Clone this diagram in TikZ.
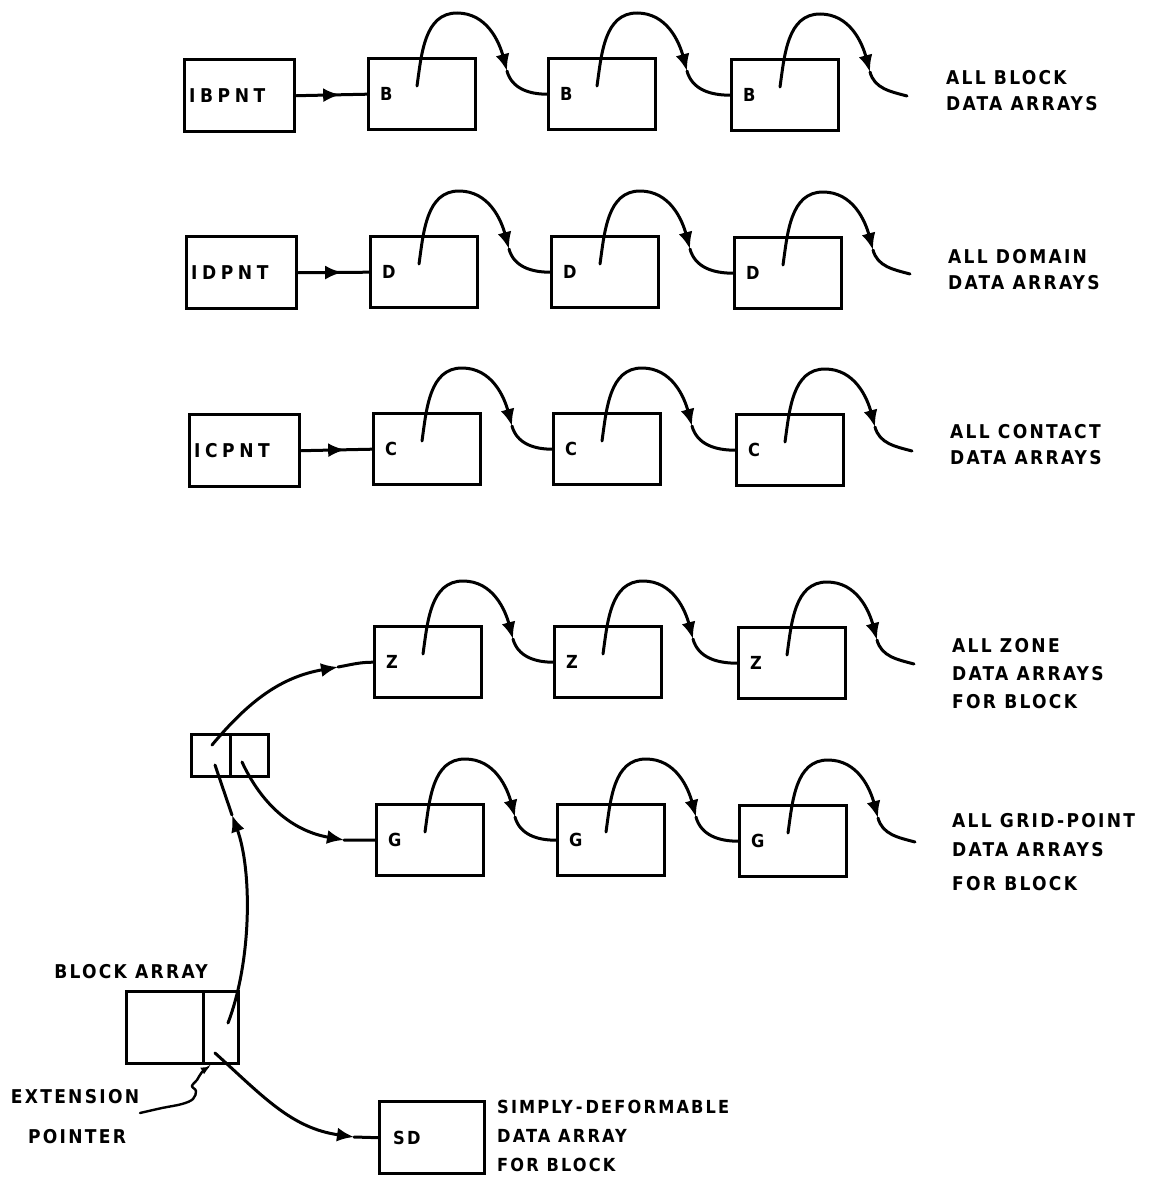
\documentclass[tikz,border=0pt]{standalone}
\usepackage{fontspec}
\setmainfont{DejaVu Sans}
\newfontfamily\lblfont{DejaVu Sans Condensed}[LetterSpace=12]
\newfontfamily\ptrfam{DejaVu Sans Condensed}[LetterSpace=24]
\usetikzlibrary{arrows.meta,calc,decorations.markings}
\tikzset{
  bx/.style={draw, line width=3.4pt, minimum width=107pt, minimum height=71pt, anchor=north west, inner sep=0pt},
  pbx/.style={bx, minimum width=110pt, minimum height=72pt},
  lnk/.style={line width=3pt, line cap=round},
  tip/.style={-{Latex[length=17pt,width=14pt]}},
  midarr/.style={postaction={decorate}, decoration={markings, mark=at position #1 with {\arrow{Latex[length=17pt,width=14pt]}}}},
  lbl/.style={font=\lblfont\bfseries\fontsize{19}{26}\selectfont, align=left, anchor=west, inner sep=0pt},
  lt/.style={font=\lblfont\bfseries\fontsize{18}{18}\selectfont, anchor=west, inner sep=0pt},
  pt/.style={font=\ptrfam\bfseries\fontsize{19}{19}\selectfont, anchor=west, inner sep=0pt}
}
\newcommand\chainlink[3]{%
  \coordinate (#3s) at ($(#1.north west)+(50,-29)$);
  \coordinate (#3p) at ($(#1.north west)+(90,44)$);
  \coordinate (#3a) at ($(#1.north west)+(140,-14)$);
  \draw[lnk,tip] (#3s) to[out=82,in=180] (#3p) to[out=0,in=105] (#3a);
  \draw[lnk] (#3a) to[out=-75,in=180] #2;
}
\newcommand\datarow[9]{%
  \node[bx] (#1a) at (#4,-#3) {};
  \node[bx] (#1b) at (#5,-#3) {};
  \node[bx] (#1c) at (#6,-#3-1) {};
  \node[lt] (#1ta) at ($(#1a.west)+(13,0)$) {#2};
  \node[lt] (#1tb) at ($(#1b.west)+(13,0)$) {#2};
  \node[lt] (#1tc) at ($(#1c.west)+(13,0)$) {#2};
  \coordinate (#1free) at ($(#1c.north west)+(177,-38)$);
  \chainlink{#1a}{(#1b.west)}{#1ab}
  \chainlink{#1b}{(#1c.west)}{#1bc}
  \coordinate (#1q) at ($(#1c.north west)+(50,-29)$);
  \coordinate (#1r) at ($(#1c.north west)+(90,44)$);
  \coordinate (#1u) at ($(#1c.north west)+(140,-14)$);
  \draw[lnk,tip] (#1q) to[out=82,in=180] (#1r) to[out=0,in=105] (#1u);
  \draw[lnk] (#1u) to[out=-75,in=165] (#1free);
  \node[lbl] (#1lab) at (#7,-#8) {#9};
}
\begin{document}
\begin{tikzpicture}[x=1pt,y=1pt]
\fill[white] (0,0) rectangle (1159,-1178);
\useasboundingbox (0,0) rectangle (1159,-1178);

% pointer boxes
\node[pbx] (pB) at (183,-58) {};
\node[pt] (pBt) at ($(pB.west)+(6,0)$) {IBPNT};
\node[pbx] (pD) at (185,-235) {};
\node[pt] (pDt) at ($(pD.west)+(6,0)$) {IDPNT};
\node[pbx] (pC) at (188,-413) {};
\node[pt] (pCt) at ($(pC.west)+(6,0)$) {ICPNT};

\datarow{B}{B}{57}{367}{547}{730}{946}{91}{ALL BLOCK\\DATA ARRAYS}
\datarow{D}{D}{235}{369}{550}{733}{948}{270}{ALL DOMAIN\\DATA ARRAYS}
\datarow{C}{C}{412}{372}{552}{735}{950}{445}{ALL CONTACT\\DATA ARRAYS}
\datarow{Z}{Z}{625}{373}{553}{737}{952}{674}{ALL ZONE\\[2pt]DATA ARRAYS\\[2pt]FOR BLOCK}
\datarow{G}{G}{803}{375}{556}{738}{952}{852}{ALL GRID-POINT\\[3pt]DATA ARRAYS\\[8pt]FOR BLOCK}

\draw[lnk,midarr=0.62] (pB.east) -- (Ba.west);
\draw[lnk,midarr=0.62] (pD.east) -- (Da.west);
\draw[lnk,midarr=0.62] (pC.east) -- (Ca.west);

% extension array (two cells)
\node[bx, minimum width=39pt, minimum height=42pt] (ext1) at (190,-733) {};
\node[bx, minimum width=38pt, minimum height=42pt] (ext2) at (229,-733) {};

% block array
\node[bx, minimum width=77pt, minimum height=72pt] (blk1) at (125,-990) {};
\node[bx, minimum width=35pt, minimum height=72pt] (blk2) at (202,-990) {};
\node[lbl, anchor=center] (blklab) at (131,-972) {BLOCK ARRAY};

% simply deformable
\node[bx, minimum width=105pt, minimum height=72pt] (SD) at (378,-1100) {};
\node[lt] (SDt) at ($(SD.west)+(15,0)$) {SD};
\node[lbl, font=\lblfont\bfseries\fontsize{18}{29}\selectfont] (SDlab) at (497,-1136) {SIMPLY\,-\,DEFORMABLE\\DATA ARRAY\\FOR BLOCK};

% ext -> Z
\coordinate (e1s) at ($(ext1.north west)+(22,-12)$);
\coordinate (e1a) at (338,-667);
\draw[lnk,tip] (e1s) to[out=50,in=190] (e1a);
\draw[lnk] (e1a) to[out=10,in=180] (Za.west);

% ext -> G
\coordinate (e2s) at ($(ext2.north west)+(13,-29)$);
\coordinate (e2a) at (344,-840);
\draw[lnk,tip] (e2s) to[out=-65,in=170] (e2a);
\draw[lnk] (e2a) -- (Ga.west);

% block -> ext
\coordinate (b1s) at ($(blk2.north west)+(26,-33)$);
\coordinate (b1a) at (232,-815);
\coordinate (b1e) at ($(ext1.north west)+(25,-32)$);
\draw[lnk,tip] (b1s) .. controls (252,-960) and (252,-870) .. (b1a);
\draw[lnk] (b1a) -- (b1e);

% block -> SD
\coordinate (b2s) at ($(blk2.north west)+(13,-63)$);
\coordinate (b2a) at (354,-1137);
\draw[lnk,tip] (b2s) to[out=-42,in=172] (b2a);
\draw[lnk] (b2a) -- (SD.west);

% extension pointer
\node[lbl, anchor=center] (extlab) at (75,-1097) {EXTENSION};
\node[lbl, anchor=center] (ptrlab) at (77,-1137) {POINTER};
\coordinate (xfree) at (140,-1113);
\coordinate (xtip) at ($(blk2.south west)+(8,-1)$);
\draw[lnk, line width=2.4pt, -{Latex[length=9pt,width=8pt]}] plot[smooth, tension=0.6] coordinates {(xfree) (162,-1108) (182,-1104) (193,-1099) (196,-1091) (192,-1086) (197,-1080) (202,-1072) (xtip)};
\end{tikzpicture}
\end{document}
